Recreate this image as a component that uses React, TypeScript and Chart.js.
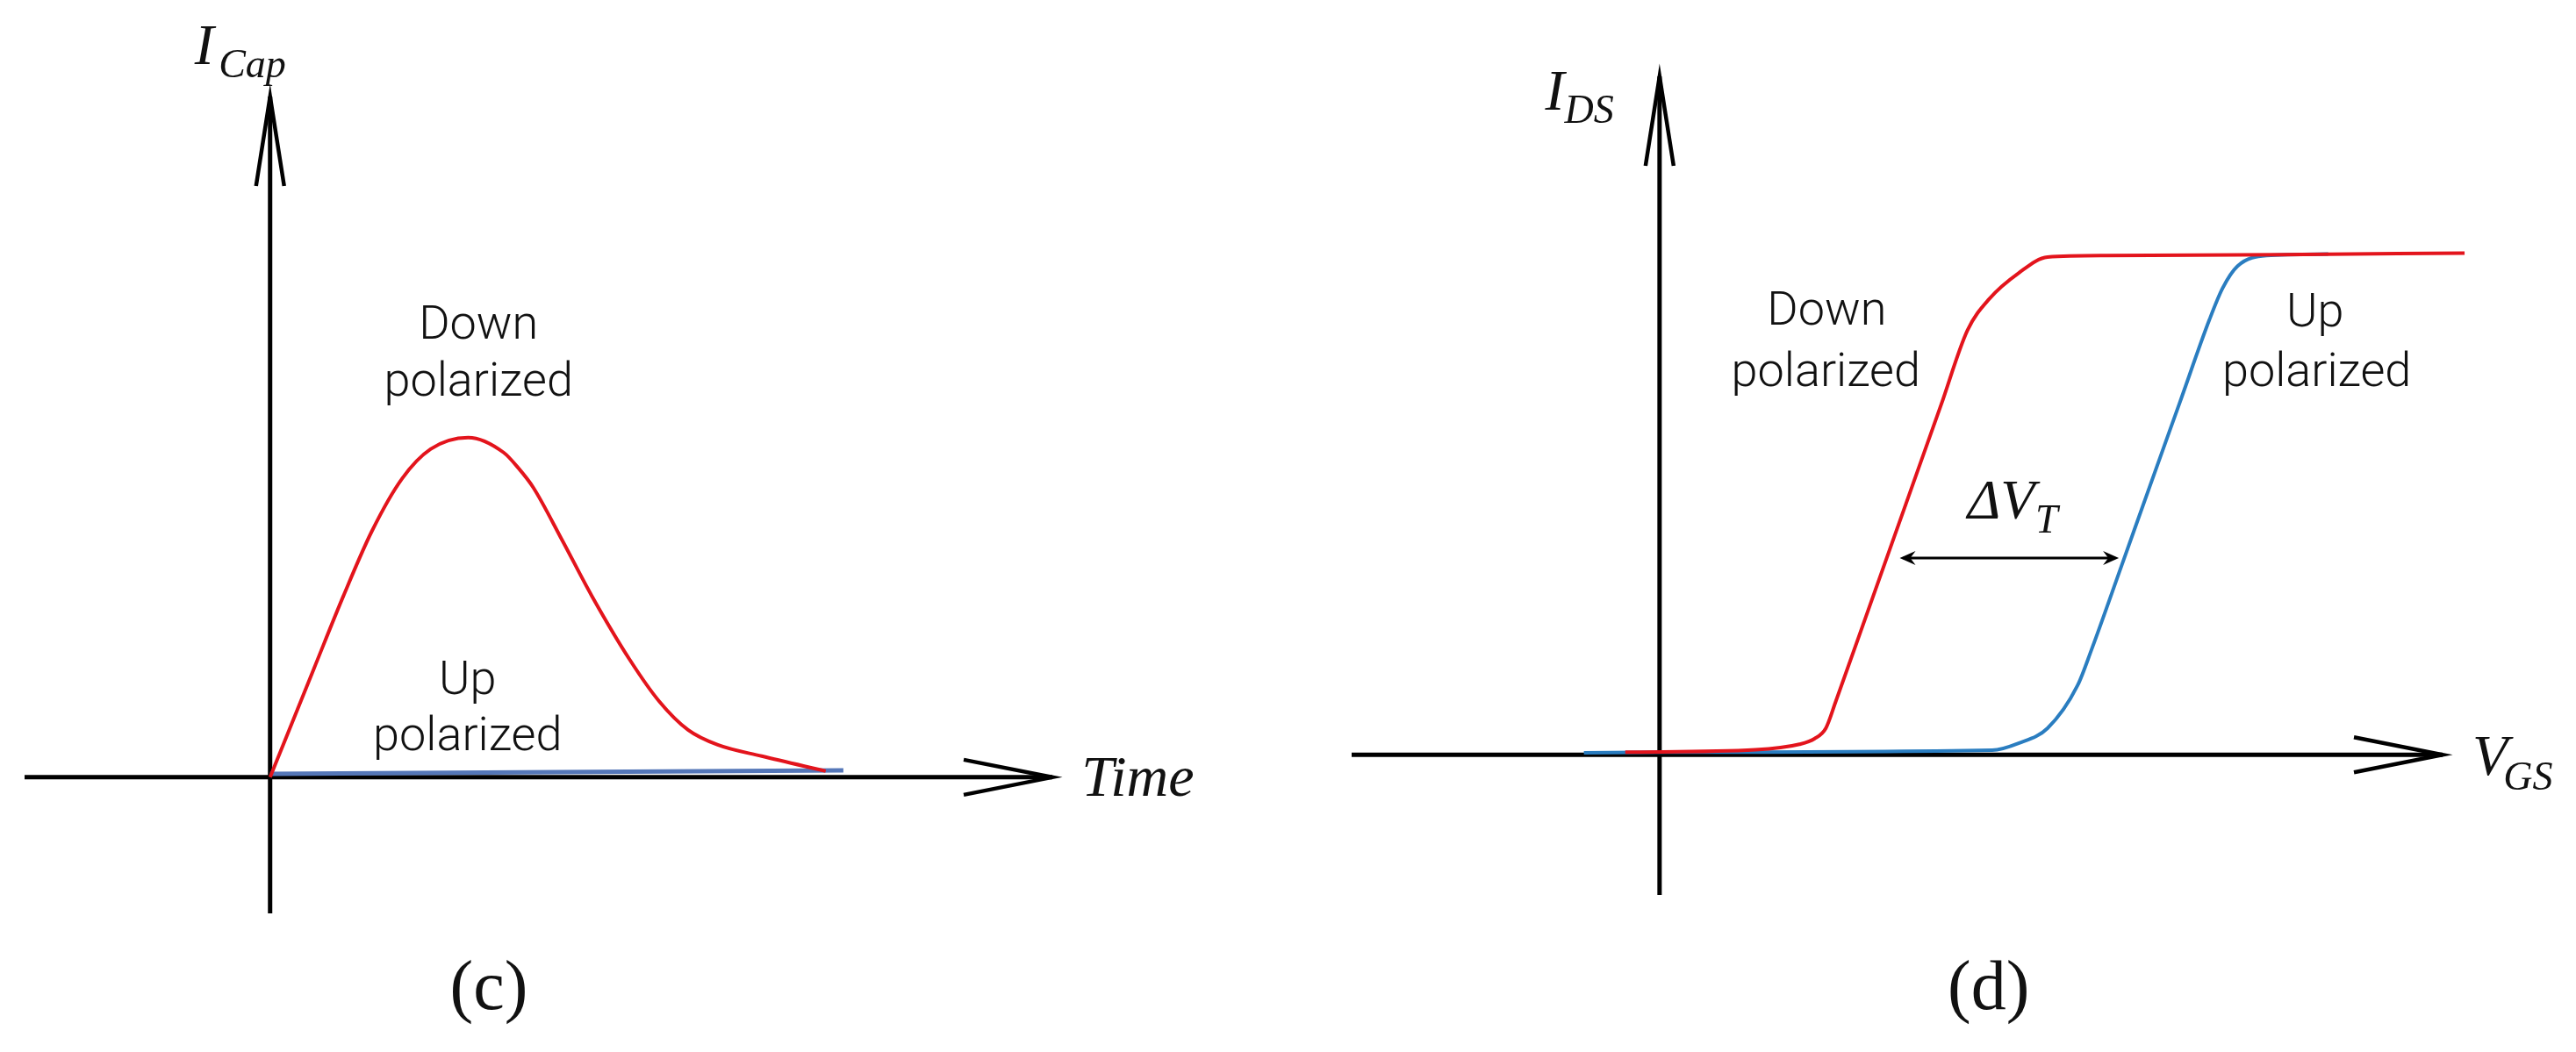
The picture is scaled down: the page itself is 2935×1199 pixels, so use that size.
import { useEffect, useRef } from "react";
import { Chart, registerables } from "chart.js";

Chart.register(...registerables);

// ---------- Panel (c): capacitor current vs time (arbitrary units) ----------
const capTimeDown = [0, 0.77, 1.28, 1.78, 2.31, 2.81, 3.47, 4.09, 4.35, 4.61, 5.12, 5.63, 6.3, 6.81, 7.32, 7.84, 8.61, 9.73];
const capCurrentDown = [0, 3.2, 5.31, 7.22, 8.77, 9.64, 9.98, 9.54, 9.08, 8.51, 6.95, 5.34, 3.45, 2.24, 1.39, 0.95, 0.62, 0.18];
const capTimeUp = [0, 10.04];
const capCurrentUp = [0.1, 0.2];

// ---------- Panel (d): transfer characteristics (arbitrary units) ----------
const vgsDown = [-0.39, 1.09, 1.59, 1.76, 1.89, 2.0, 2.4, 2.8, 3.2, 3.5, 3.75, 4.08, 4.41, 5.08, 7.07, 9.15];
const idsDown = [0.05, 0.1, 0.21, 0.32, 0.53, 1.05, 3.03, 5.01, 6.99, 8.48, 9.11, 9.62, 9.94, 9.97, 9.99, 10.02];
const vgsUp = [-0.86, 0.09, 3.78, 4.08, 4.41, 4.75, 4.91, 5.25, 5.58, 5.91, 6.25, 6.4, 6.57, 6.9, 7.6];
const idsUp = [0.04, 0.05, 0.09, 0.23, 0.53, 1.38, 2.1, 3.77, 5.4, 7.02, 8.69, 9.32, 9.76, 9.97, 10.0];

const RED = "#e3141c";
const BLUE_C = "#5577b8";
const BLUE_D = "#2a7dc0";

const SERIF_I = "italic 66px 'Liberation Serif', 'DejaVu Serif', serif";
const SERIF_SUB = "italic 46px 'Liberation Serif', 'DejaVu Serif', serif";
const SERIF_DV = "italic 64px 'Liberation Serif', 'DejaVu Serif', serif";
const SERIF_PAREN = "80px 'Liberation Serif', 'DejaVu Serif', serif";
const SANS = "300 54px Roboto, 'Noto Sans', sans-serif";

type TextItem = { text: string; x: number; y: number; font: string; align: CanvasTextAlign };
type DArrow = { x1: number; x2: number; y: number };

const pts = (xs: number[], ys: number[]) => xs.map((x, i) => ({ x, y: ys[i] }));

const schematicPlugin = {
  id: "schematic",
  beforeDatasetsDraw(chart: any) {
    const { ctx, chartArea: a, scales } = chart;
    const xs = scales.x;
    const ys = scales.y;
    const ox = xs.getPixelForValue(0);
    const oy = ys.getPixelForValue(0);
    ctx.save();
    ctx.strokeStyle = "#000";
    ctx.lineWidth = 5;
    ctx.lineCap = "butt";
    ctx.lineJoin = "miter";
    // horizontal axis
    ctx.beginPath();
    ctx.moveTo(a.left, oy);
    ctx.lineTo(a.right, oy);
    ctx.stroke();
    ctx.lineWidth = 4.5;
    ctx.beginPath();
    ctx.moveTo(a.right - 101, oy - 20);
    ctx.lineTo(a.right, oy);
    ctx.lineTo(a.right - 101, oy + 20);
    ctx.stroke();
    // vertical axis
    ctx.lineWidth = 5;
    ctx.beginPath();
    ctx.moveTo(ox, a.bottom);
    ctx.lineTo(ox, a.top);
    ctx.stroke();
    ctx.lineWidth = 4.5;
    ctx.beginPath();
    ctx.moveTo(ox - 16, a.top + 102);
    ctx.lineTo(ox, a.top);
    ctx.lineTo(ox + 16, a.top + 102);
    ctx.stroke();
    ctx.restore();
  },
  afterDatasetsDraw(chart: any, _args: any, opts: any) {
    const { ctx, scales } = chart;
    const xs = scales.x;
    const ys = scales.y;
    ctx.save();
    ctx.fillStyle = "#111";
    ctx.textBaseline = "alphabetic";
    (opts.texts as TextItem[]).forEach((t) => {
      ctx.font = t.font;
      ctx.textAlign = t.align;
      ctx.fillText(t.text, xs.getPixelForValue(t.x), ys.getPixelForValue(t.y));
    });
    (opts.arrows as DArrow[]).forEach((ar) => {
      const x1 = xs.getPixelForValue(ar.x1);
      const x2 = xs.getPixelForValue(ar.x2);
      const y = ys.getPixelForValue(ar.y);
      ctx.strokeStyle = "#000";
      ctx.fillStyle = "#000";
      ctx.lineWidth = 3;
      ctx.beginPath();
      ctx.moveTo(x1 + 4, y);
      ctx.lineTo(x2 - 4, y);
      ctx.stroke();
      const head = (tx: number, dir: number) => {
        ctx.beginPath();
        ctx.moveTo(tx, y);
        ctx.lineTo(tx + dir * 18, y - 8);
        ctx.lineTo(tx + dir * 12, y);
        ctx.lineTo(tx + dir * 18, y + 8);
        ctx.closePath();
        ctx.fill();
      };
      head(x1, 1);
      head(x2, -1);
    });
    ctx.restore();
  },
};

function makeChart(
  canvas: HTMLCanvasElement,
  datasets: any[],
  xr: [number, number],
  yr: [number, number],
  padding: { left: number; right: number; top: number; bottom: number },
  texts: TextItem[],
  arrows: DArrow[]
) {
  return new Chart(canvas, {
    type: "scatter",
    data: { datasets },
    options: {
      responsive: false,
      animation: false,
      events: [],
      layout: { padding },
      scales: {
        x: { type: "linear", min: xr[0], max: xr[1], display: false },
        y: { type: "linear", min: yr[0], max: yr[1], display: false },
      },
      plugins: {
        legend: { display: false },
        tooltip: { enabled: false },
        schematic: { texts, arrows },
      } as any,
    },
    plugins: [schematicPlugin],
  });
}

const lineDs = (label: string, data: any[], color: string, width: number, order: number) => ({
  label,
  data,
  showLine: true,
  borderColor: color,
  backgroundColor: color,
  borderWidth: width,
  pointRadius: 0,
  cubicInterpolationMode: "monotone",
  clip: false,
  order,
});

export default function App() {
  const cRef = useRef<HTMLCanvasElement>(null);
  const dRef = useRef<HTMLCanvasElement>(null);

  useEffect(() => {
    const chartC = makeChart(
      cRef.current!,
      [
        lineDs("Down polarized", pts(capTimeDown, capCurrentDown), RED, 4, 1),
        lineDs("Up polarized", pts(capTimeUp, capCurrentUp), BLUE_C, 5, 2),
      ],
      [-4.3, 13.7],
      [-4, 20],
      { left: 28, right: 268, top: 110, bottom: 158 },
      [
        { text: "I", x: -1.32, y: 20.95, font: SERIF_I, align: "left" },
        { text: "Cap", x: -0.9, y: 20.57, font: SERIF_SUB, align: "left" },
        { text: "Time", x: 14.21, y: -0.55, font: SERIF_I, align: "left" },
        { text: "Down", x: 3.65, y: 12.89, font: SANS, align: "center" },
        { text: "polarized", x: 3.65, y: 11.21, font: SANS, align: "center" },
        { text: "Up", x: 3.46, y: 2.44, font: SANS, align: "center" },
        { text: "polarized", x: 3.46, y: 0.8, font: SANS, align: "center" },
        { text: "(c)", x: 3.83, y: -6.81, font: SERIF_PAREN, align: "center" },
      ],
      []
    );
    const chartD = makeChart(
      dRef.current!,
      [
        lineDs("Down polarized", pts(vgsDown, idsDown), RED, 4, 1),
        lineDs("Up polarized", pts(vgsUp, idsUp), BLUE_D, 4, 2),
      ],
      [-3.5, 8.9],
      [-2.8, 13.55],
      { left: 73, right: 152, top: 87, bottom: 179 },
      [
        { text: "I", x: -1.3, y: 12.88, font: SERIF_I, align: "left" },
        { text: "DS", x: -1.08, y: 12.62, font: SERIF_SUB, align: "left" },
        { text: "V", x: 9.24, y: -0.4, font: SERIF_I, align: "left" },
        { text: "GS", x: 9.59, y: -0.7, font: SERIF_SUB, align: "left" },
        { text: "Down", x: 1.9, y: 8.59, font: SANS, align: "center" },
        { text: "polarized", x: 1.89, y: 7.36, font: SANS, align: "center" },
        { text: "Up", x: 7.45, y: 8.55, font: SANS, align: "center" },
        { text: "polarized", x: 7.47, y: 7.36, font: SANS, align: "center" },
        { text: "ΔV", x: 3.5, y: 4.72, font: SERIF_DV, align: "left" },
        { text: "T", x: 4.27, y: 4.44, font: SERIF_SUB, align: "left" },
        { text: "(d)", x: 3.74, y: -5.08, font: SERIF_PAREN, align: "center" },
      ],
      [{ x1: 2.73, x2: 5.22, y: 3.93 }]
    );
    return () => {
      chartC.destroy();
      chartD.destroy();
    };
  }, []);

  return (
    <div style={{ position: "fixed", left: 0, top: 0, width: 2935, height: 1199, background: "#fff" }}>
      <canvas ref={cRef} width={1467} height={1199} style={{ position: "absolute", left: 0, top: 0, width: 1467, height: 1199 }} />
      <canvas ref={dRef} width={1468} height={1199} style={{ position: "absolute", left: 1467, top: 0, width: 1468, height: 1199 }} />
    </div>
  );
}
